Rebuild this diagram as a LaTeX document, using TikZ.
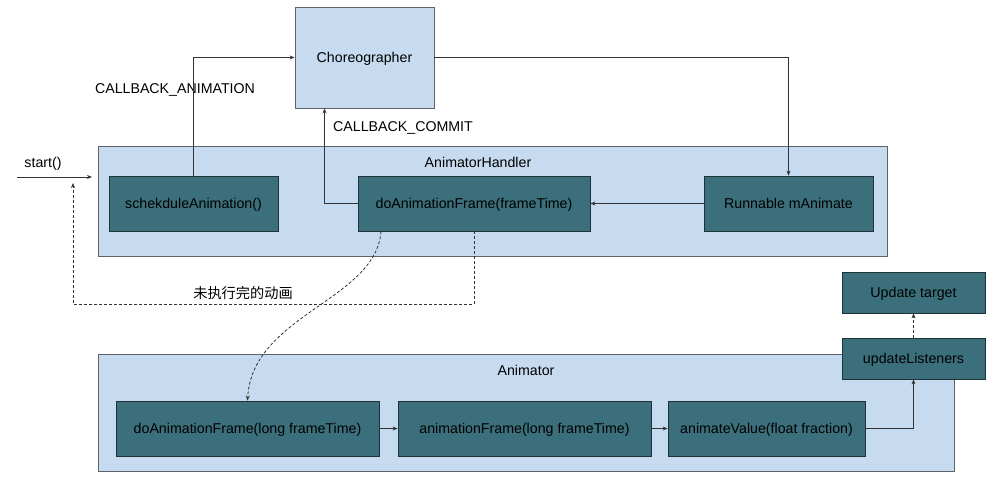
\documentclass[tikz,border=0pt]{standalone}
\usepackage{fontspec}
\setmainfont{Liberation Sans}
\newfontfamily\cjk{Noto Sans CJK SC}
\usetikzlibrary{arrows.meta,positioning}
\definecolor{contfill}{HTML}{C6DBF0}
\definecolor{contline}{HTML}{5F6368}
\definecolor{boxfill}{HTML}{3B6F7B}
\definecolor{boxline}{HTML}{1E3338}
\definecolor{lineclr}{HTML}{333333}
\begin{document}
\begin{tikzpicture}[x=1pt,y=-1pt,
  font=\fontsize{14.2}{16}\selectfont,
  every node/.style={text height=1em, text depth=0pt},
  container/.style={draw=contline, fill=contfill, line width=0.9pt, inner sep=0pt},
  chbox/.style={draw=contline, fill=contfill, line width=0.9pt, inner sep=0pt},
  tealbox/.style={draw=boxline, fill=boxfill, line width=0.8pt, inner sep=0pt, text=black},
  conn/.style={draw=lineclr, line width=0.8pt, -{Stealth[length=5pt,width=4pt]}},
  dconn/.style={conn, dashed, dash pattern=on 3pt off 2pt},
  lbl/.style={inner sep=0pt, text=black}
]
\useasboundingbox (0,0) rectangle (1000,498);
\fill[white] (0,0) rectangle (1000,498);

% Choreographer
\node[chbox, minimum width=139pt, minimum height=101pt] (cho) at (364.5,57.5) {Choreographer};

% AnimatorHandler container
\node[container, minimum width=789pt, minimum height=110pt] (ah) at (492.5,201) {};
\node[lbl] (ahtitle) at (478,162) {AnimatorHandler};
\node[tealbox, minimum width=169pt, minimum height=55pt] (sched) at (193.5,203.5) {schekduleAnimation()};
\node[tealbox, minimum width=232pt, minimum height=55pt] (daf) at (474,203.5) {doAnimationFrame(frameTime)};
\node[tealbox, minimum width=169pt, minimum height=55pt] (run) at (788.5,203.5) {Runnable mAnimate};

% Animator container
\node[container, minimum width=856pt, minimum height=117pt] (an) at (526,412.5) {};
\node[lbl] (antitle) at (526,370) {Animator};
\node[tealbox, minimum width=263pt, minimum height=55pt] (daf2) at (247.5,428.5) {doAnimationFrame(long frameTime)};
\node[tealbox, minimum width=253pt, minimum height=55pt] (af) at (524.5,428.5) {animationFrame(long frameTime)};
\node[tealbox, minimum width=197pt, minimum height=55pt] (av) at (766.5,428.5) {animateValue(float fraction)};
\node[tealbox, minimum width=143pt, minimum height=41pt] (ul) at (913.5,358.5) {updateListeners};
\node[tealbox, minimum width=143pt, minimum height=41pt] (ut) at (913.5,292.5) {Update target};

% labels
\node[lbl] (startlbl) at (43,162) {start()};
\node[lbl] (cblanim) at (175,88) {CALLBACK\_ANIMATION};
\node[lbl] (cbcommit) at (403,126) {CALLBACK\_COMMIT};
\node[lbl] (unfin) at (243,293) {\cjk 未执行完的动画};

% connectors
\coordinate (s0) at (17,177);
\coordinate (s1) at (92,177);
\draw[conn] (s0) -- (s1);
\draw[conn] (sched.north) |- (cho.west);
\draw[conn] (daf.west) -| ([xshift=30pt]cho.south west);
\draw[conn] (cho.east) -| (run.north);
\draw[conn] (run.west) -- (daf.east);
\coordinate (loopend) at (73,183);
\draw[dconn] (daf.south) -- ++(0,73) -| (loopend);
\draw[dconn] ([xshift=-93pt]daf.south) .. controls (376,300) and (252,315) .. (daf2.north);
\draw[conn] (daf2.east) -- (af.west);
\draw[conn] (af.east) -- (av.west);
\draw[conn] (av.east) -| (ul.south);
\draw[dconn] (ul.north) -- (ut.south);
\end{tikzpicture}
\end{document}
